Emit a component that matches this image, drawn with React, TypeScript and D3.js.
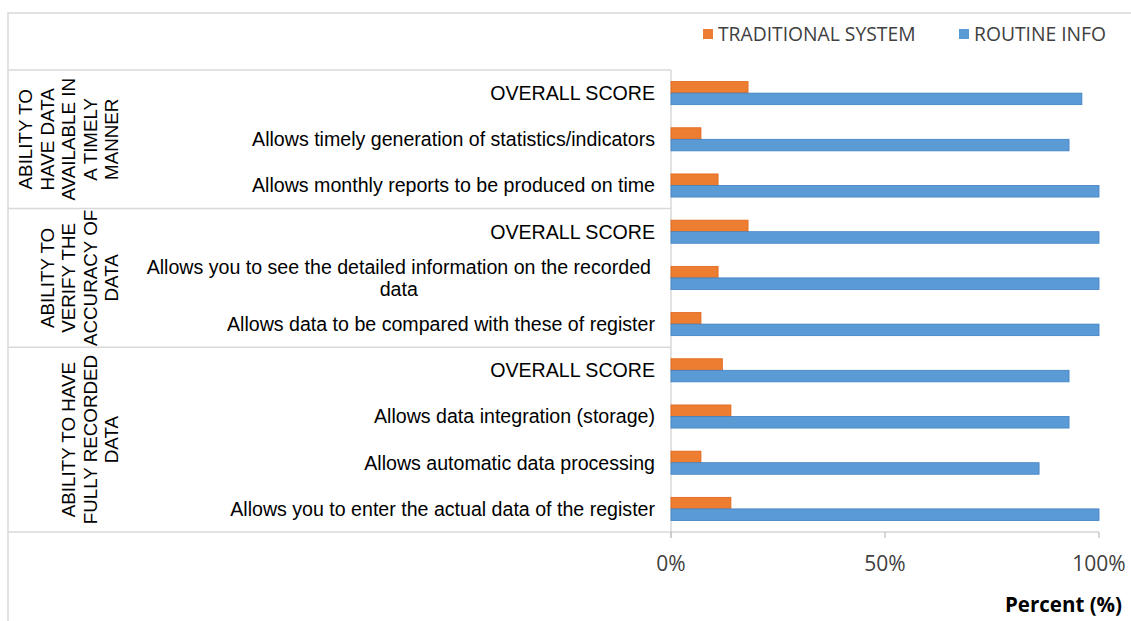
import React, { useRef, useEffect } from 'react';
import * as d3 from 'd3';

const categories = [
  'OVERALL SCORE',
  'Allows timely generation of statistics/indicators',
  'Allows monthly reports to be produced on time',
  'OVERALL SCORE',
  'Allows you to see the detailed information on the recorded\ndata',
  'Allows data to be compared with these of register',
  'OVERALL SCORE',
  'Allows data integration (storage)',
  'Allows automatic data processing',
  'Allows you to enter the actual data of the register',
];

const groupLabels = [
  ['ABILITY TO', 'HAVE DATA', 'AVAILABLE IN', 'A TIMELY', 'MANNER'],
  ['ABILITY TO', 'VERIFY THE', 'ACCURACY OF', 'DATA'],
  ['ABILITY TO HAVE', 'FULLY RECORDED', 'DATA'],
];
const groupSizes = [3, 3, 4];

const traditional = [18, 7, 11, 18, 11, 7, 12, 14, 7, 14];
const routine = [96, 93, 100, 100, 100, 100, 93, 93, 86, 100];

const seriesNames = ['TRADITIONAL SYSTEM', 'ROUTINE INFO'];
const seriesColors = ['#ED7D31', '#5B9BD5'];
const seriesStroke = ['#e0641a', '#3f80c4'];

const xTicks = [0, 50, 100];

const W = 1131;
const H = 621;

const App = () => {
  const svgRef = useRef<SVGSVGElement | null>(null);

  useEffect(() => {
    const svg = d3.select(svgRef.current);
    svg.selectAll('*').remove();

    const plot = { left: 671, right: 1099, top: 70, bottom: 532 };
    const frameLeft = 8;
    const grid = '#d9d9d9';
    const labelFont = 'Liberation Sans, Arial';

    // outer chart frame
    svg.append('rect')
      .attr('x', frameLeft).attr('y', 13)
      .attr('width', W).attr('height', H)
      .attr('fill', 'white').attr('stroke', grid).attr('stroke-width', 1.5);

    const x = d3.scaleLinear().domain([0, 100]).range([plot.left, plot.right]);
    const ids = categories.map((_, i) => String(i));
    const y = d3.scaleBand().domain(ids).range([plot.top, plot.bottom])
      .paddingInner(0.5).paddingOuter(0.25);
    const ySub = d3.scaleBand().domain(['0', '1']).range([0, y.bandwidth()]);

    // group separators
    let start = 0;
    const bounds: number[] = [plot.top];
    groupSizes.forEach((n) => {
      start += n;
      bounds.push(plot.top + y.step() * start);
    });
    svg.append('g').selectAll('line').data(bounds).join('line')
      .attr('x1', frameLeft).attr('x2', plot.left)
      .attr('y1', (d) => d).attr('y2', (d) => d)
      .attr('stroke', grid).attr('stroke-width', 1.5);

    // axes
    svg.append('line')
      .attr('x1', plot.left).attr('x2', plot.left)
      .attr('y1', plot.top).attr('y2', plot.bottom + 6)
      .attr('stroke', grid).attr('stroke-width', 1.5);
    svg.append('line')
      .attr('x1', plot.left).attr('x2', plot.right)
      .attr('y1', plot.bottom).attr('y2', plot.bottom)
      .attr('stroke', '#bfbfbf').attr('stroke-width', 1.2);
    svg.append('g').selectAll('line').data(xTicks).join('line')
      .attr('x1', (d) => x(d)).attr('x2', (d) => x(d))
      .attr('y1', plot.bottom).attr('y2', plot.bottom + 6)
      .attr('stroke', '#bfbfbf').attr('stroke-width', 1.2);
    svg.append('g').selectAll('text').data(xTicks).join('text')
      .attr('x', (d) => x(d)).attr('y', 571)
      .attr('text-anchor', 'middle')
      .attr('font-family', 'Open Sans').attr('font-size', 21).attr('fill', '#404040')
      .text((d) => `${d}%`);

    svg.append('text')
      .attr('x', 1122).attr('y', 612).attr('text-anchor', 'end')
      .attr('font-family', 'Open Sans').attr('font-weight', 'bold').attr('font-size', 20.5)
      .attr('fill', '#000').text('Percent (%)');

    // bars
    [traditional, routine].forEach((vals, s) => {
      svg.append('g').selectAll('rect').data(vals).join('rect')
        .attr('x', x(0))
        .attr('y', (_, i) => (y(String(i)) as number) + (ySub(String(s)) as number))
        .attr('width', (d) => x(d) - x(0))
        .attr('height', ySub.bandwidth())
        .attr('fill', seriesColors[s])
        .attr('stroke', seriesStroke[s]).attr('stroke-width', 0.8);
    });

    // category labels
    const labelRight = 655;
    categories.forEach((c, i) => {
      const lines = c.split('\n');
      const cy = (y(String(i)) as number) + y.bandwidth() / 2;
      const t = svg.append('text')
        .attr('font-family', labelFont).attr('font-size', 19.6)
        .attr('fill', '#000').attr('text-anchor', 'end')
        .attr('x', labelRight);
      lines.forEach((ln, k) => {
        t.append('tspan')
          .attr('x', labelRight)
          .attr('y', cy + (k - (lines.length - 1) / 2) * 22)
          .attr('dy', '0.35em')
          .text(ln);
      });
      if (lines.length > 1) {
        const w = (t.node() as SVGTextElement).getBBox().width;
        t.attr('text-anchor', 'middle');
        t.selectAll('tspan').attr('x', labelRight - 4 - w / 2);
      }
    });

    // group labels (rotated)
    groupLabels.forEach((lines, g) => {
      const cy = (bounds[g] + bounds[g + 1]) / 2;
      const gg = svg.append('g').attr('transform', `translate(0,${cy}) rotate(-90)`);
      gg.selectAll('text').data(lines).join('text')
        .attr('x', 0)
        .attr('y', (_, i) => 118 - (lines.length - 1 - i) * 21.5)
        .attr('text-anchor', 'middle')
        .attr('font-family', labelFont).attr('font-size', 18.8)
        .attr('fill', '#000')
        .text((d) => d);
    });

    // legend
    const legendX = [703, 959];
    const lg = svg.append('g').selectAll('g').data(seriesNames).join('g')
      .attr('transform', (_, i) => `translate(${legendX[i]},29)`);
    lg.append('rect').attr('width', 10).attr('height', 10)
      .attr('fill', (_, i) => seriesColors[i]);
    lg.append('text').attr('x', 15).attr('y', 5).attr('dy', '0.35em')
      .attr('font-family', 'Open Sans').attr('font-size', 19.3).attr('fill', '#404040')
      .text((d) => d);
  }, []);

  return (
    <svg ref={svgRef} width={W} height={H}
      style={{ position: 'absolute', left: 0, top: 0, background: 'white' }} />
  );
};

export default App;
